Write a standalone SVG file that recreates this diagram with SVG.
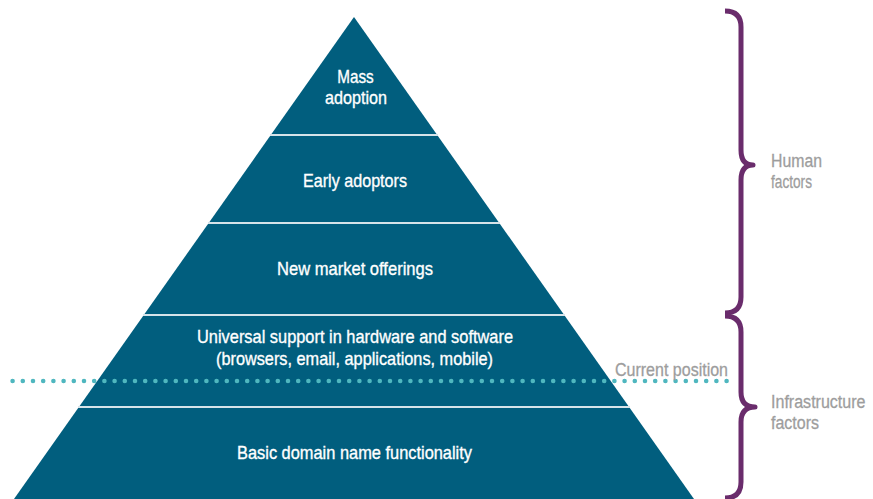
<svg xmlns="http://www.w3.org/2000/svg" width="873" height="499" viewBox="0 0 873 499">
  <defs>
    <style>
      .tier { fill: #015e7e; }
      .div { stroke: #d6e3e9; stroke-width: 2.2; fill: none; }
      .t { font-family: "Liberation Sans Narrow", "Arial Narrow", "Liberation Sans", Arial, sans-serif; font-size: 19px; fill: #ffffff; stroke: #ffffff; stroke-width: 0.35; text-anchor: middle; }
      .lbl { font-family: "Liberation Sans Narrow", "Arial Narrow", "Liberation Sans", Arial, sans-serif; font-size: 19px; fill: #9d9d9d; stroke: #9d9d9d; stroke-width: 0.3; }
      .brace { stroke: #6a2c6c; stroke-width: 5; fill: none; stroke-linecap: butt; stroke-linejoin: round; }
      .dots { stroke: #4fb7bf; stroke-width: 4.6; stroke-linecap: round; stroke-dasharray: 0 10.2; fill: none; }
    </style>
  </defs>
  <rect width="873" height="499" fill="#ffffff"/>

  <g id="pyramid">
    <polygon class="tier" points="354,17 694,499 14,499"/>
    <g id="dividers">
      <line class="div" x1="270" y1="135" x2="438" y2="135"/>
      <line class="div" x1="208" y1="223" x2="500" y2="223"/>
      <line class="div" x1="143" y1="315" x2="565" y2="315"/>
      <line class="div" x1="78" y1="407" x2="630" y2="407"/>
    </g>
  </g>

  <g id="tier-mass-adoption">
    <text class="t" x="355.5" y="83" textLength="36.5" lengthAdjust="spacingAndGlyphs">Mass</text>
    <text class="t" x="356" y="104" textLength="62" lengthAdjust="spacingAndGlyphs">adoption</text>
  </g>
  <g id="tier-early-adoptors">
    <text class="t" x="355" y="187" textLength="104" lengthAdjust="spacingAndGlyphs">Early adoptors</text>
  </g>
  <g id="tier-new-market">
    <text class="t" x="355" y="275" textLength="156" lengthAdjust="spacingAndGlyphs">New market offerings</text>
  </g>
  <g id="tier-universal-support">
    <text class="t" x="355" y="343" textLength="316" lengthAdjust="spacingAndGlyphs">Universal support in hardware and software</text>
    <text class="t" x="354.5" y="365" textLength="277" lengthAdjust="spacingAndGlyphs">(browsers, email, applications, mobile)</text>
  </g>
  <g id="tier-basic">
    <text class="t" x="354.5" y="459" textLength="235" lengthAdjust="spacingAndGlyphs">Basic domain name functionality</text>
  </g>

  <g id="connectors">
    <path id="current-position-line" class="dots" d="M12.6,381 L727,381"/>
    <path id="brace-human" class="brace" d="M725,11 Q741,11 741,27 L741,150 Q741,165 753,165 Q741,165 741,180 L741,297 Q741,313 725,313"/>
    <path id="brace-infrastructure" class="brace" d="M725,316 Q741,316 741,332 L741,392 Q741,407 755,407 Q741,407 741,422 L741,482 Q741,498 725,498"/>
  </g>

  <g id="label-current-position">
    <text class="lbl" x="615" y="376" textLength="113" lengthAdjust="spacingAndGlyphs">Current position</text>
  </g>
  <g id="label-human-factors">
    <text class="lbl" x="771" y="167" textLength="51" lengthAdjust="spacingAndGlyphs">Human</text>
    <text class="lbl" x="771" y="188" textLength="41" lengthAdjust="spacingAndGlyphs">factors</text>
  </g>
  <g id="label-infrastructure-factors">
    <text class="lbl" transform="translate(771,408) scale(0.845,1)" x="0" y="0">Infrastructure</text>
    <text class="lbl" x="771" y="429" textLength="48" lengthAdjust="spacingAndGlyphs">factors</text>
  </g>
</svg>
